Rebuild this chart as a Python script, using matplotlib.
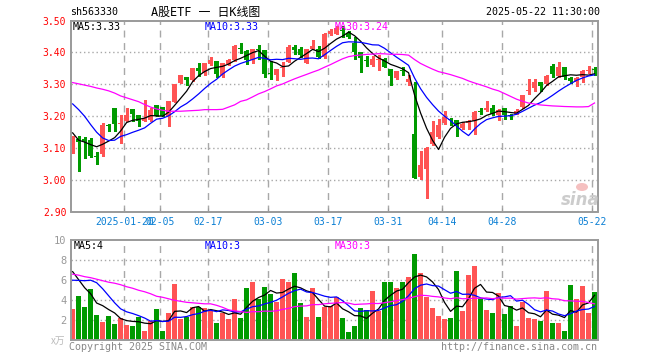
import matplotlib
matplotlib.use('Agg')
import matplotlib.pyplot as plt
import numpy as np
from matplotlib.patches import Ellipse

# ---------------- data ----------------
dates = ['01-07','01-08','01-09','01-10','01-13','01-14','01-15','01-16','01-17','01-20',
         '01-21','01-22','01-23','01-24','01-27',
         '02-05','02-06','02-07','02-10','02-11','02-12','02-13','02-14','02-17','02-18',
         '02-19','02-20','02-21','02-24','02-25','02-26','02-27','02-28',
         '03-03','03-04','03-05','03-06','03-07','03-10','03-11','03-12','03-13','03-14',
         '03-17','03-18','03-19','03-20','03-21','03-24','03-25','03-26','03-27','03-28','03-31',
         '04-01','04-02','04-03','04-07','04-08','04-09','04-10','04-11','04-14','04-15',
         '04-16','04-17','04-18','04-21','04-22','04-23','04-24','04-25','04-28','04-29','04-30',
         '05-06','05-07','05-08','05-09','05-12','05-13','05-14','05-15','05-16',
         '05-19','05-20','05-21','05-22']

opens = [3.105,3.128,3.128,3.124,3.073,3.081,3.173,3.226,3.174,3.185,
         3.223,3.204,3.185,3.186,3.234,3.228,3.199,3.244,3.305,3.322,
         3.313,3.350,3.334,3.362,3.374,3.329,3.363,3.376,3.415,3.404,
         3.376,3.411,3.407,3.336,3.329,3.350,3.371,3.418,3.412,3.366,
         3.409,3.412,3.386,3.459,3.459,3.470,3.461,3.430,3.402,3.375,
         3.360,3.376,3.378,3.347,3.319,3.343,3.308,3.142,3.008,3.032,
         3.113,3.134,3.178,3.192,3.188,3.162,3.178,3.183,3.216,3.220,
         3.225,3.202,3.225,3.204,3.207,3.228,3.280,3.287,3.307,3.300,
         3.357,3.327,3.353,3.320,3.307,3.322,3.340,3.346]
highs = [3.138,3.136,3.133,3.131,3.086,3.178,3.176,3.226,3.202,3.225,
         3.223,3.204,3.251,3.225,3.234,3.228,3.246,3.301,3.329,3.322,
         3.350,3.368,3.368,3.384,3.374,3.368,3.379,3.423,3.428,3.407,
         3.412,3.423,3.407,3.374,3.348,3.371,3.423,3.423,3.418,3.411,
         3.439,3.420,3.461,3.472,3.482,3.482,3.467,3.447,3.402,3.388,
         3.388,3.392,3.383,3.347,3.340,3.355,3.329,3.308,3.090,3.103,
         3.185,3.192,3.217,3.194,3.188,3.180,3.188,3.215,3.225,3.248,
         3.235,3.222,3.225,3.206,3.222,3.267,3.316,3.316,3.307,3.329,
         3.362,3.369,3.353,3.322,3.322,3.345,3.357,3.353]
lows = [3.084,3.027,3.069,3.071,3.050,3.074,3.152,3.152,3.114,3.183,
        3.183,3.168,3.183,3.185,3.199,3.199,3.168,3.243,3.303,3.298,
        3.311,3.326,3.329,3.360,3.322,3.322,3.360,3.374,3.397,3.362,
        3.368,3.378,3.324,3.316,3.313,3.326,3.369,3.394,3.384,3.366,
        3.409,3.381,3.381,3.455,3.457,3.449,3.444,3.378,3.337,3.358,
        3.358,3.343,3.355,3.296,3.317,3.329,3.296,3.004,3.001,2.942,
        3.110,3.131,3.176,3.173,3.136,3.159,3.159,3.142,3.206,3.215,
        3.204,3.188,3.192,3.191,3.206,3.225,3.270,3.279,3.279,3.298,
        3.324,3.324,3.316,3.305,3.293,3.308,3.336,3.329]
closes = [3.134,3.118,3.120,3.074,3.071,3.173,3.168,3.174,3.179,3.204,
          3.207,3.183,3.194,3.218,3.201,3.201,3.246,3.301,3.329,3.313,
          3.350,3.340,3.366,3.376,3.332,3.366,3.376,3.420,3.412,3.376,
          3.412,3.407,3.332,3.333,3.348,3.355,3.418,3.407,3.392,3.409,
          3.420,3.384,3.459,3.467,3.478,3.467,3.447,3.402,3.381,3.373,
          3.378,3.378,3.355,3.327,3.340,3.341,3.317,3.004,3.046,3.100,
          3.151,3.173,3.196,3.186,3.170,3.176,3.183,3.212,3.214,3.225,
          3.207,3.220,3.202,3.201,3.215,3.267,3.282,3.308,3.295,3.327,
          3.332,3.353,3.324,3.311,3.320,3.342,3.345,3.344]
volumes = [3.13,4.37,3.33,5.03,2.53,1.83,2.43,1.63,2.23,1.53,
           1.43,2.27,0.93,1.93,3.13,0.93,2.73,5.53,2.13,2.33,
           3.33,3.33,3.23,2.93,1.73,2.70,2.13,4.03,2.23,5.13,
           5.73,4.03,5.23,4.53,3.83,6.03,5.73,6.63,3.73,2.33,
           5.13,2.33,3.33,3.37,4.27,2.23,0.83,1.43,3.23,3.03,
           4.83,2.93,5.73,5.73,5.13,5.73,6.23,8.53,6.67,4.23,
           3.23,2.43,2.13,2.23,6.83,2.93,6.43,7.33,4.13,3.03,
           2.73,4.63,2.63,3.43,1.43,3.83,2.23,2.13,1.93,4.83,
           1.73,1.73,0.93,5.43,4.03,5.33,2.73,4.73]

# moving-average values before enough in-window history exists
ma5_lead = [3.147, 3.124, 3.118, 3.110]
ma10_lead = [3.238, 3.220, 3.199, 3.173, 3.149, 3.131, 3.123, 3.124, 3.136]
ma30_lead = [3.305, 3.301, 3.297, 3.293, 3.288, 3.284, 3.279, 3.272, 3.263, 3.257,
             3.251, 3.245, 3.236, 3.228, 3.222, 3.218, 3.215, 3.215, 3.215, 3.216,
             3.217, 3.218, 3.220, 3.220, 3.220, 3.221, 3.228, 3.235, 3.246]
vma5_lead = [6.8, 6.0, 5.2, 4.6]
vma10_lead = [5.95, 5.93, 5.90, 5.95, 5.70, 5.10, 4.40, 3.70, 3.10]
vma30_lead = [6.55, 6.45, 6.30, 6.20, 6.05, 5.90, 5.75, 5.65, 5.50, 5.30,
              5.15, 4.95, 4.80, 4.60, 4.35, 4.25, 4.10, 3.95, 3.85, 3.75,
              3.70, 3.65, 3.60, 3.60, 3.45, 3.25, 3.00, 2.90, 2.83]

tick_dates = ['01-20', '02-05', '02-17', '03-03', '03-17', '03-31', '04-14', '04-28', '05-22']
tick_labels = ['2025-01-20', '02-05', '02-17', '03-03', '03-17', '03-31', '04-14', '04-28', '05-22']
price_ticks = [2.90, 3.00, 3.10, 3.20, 3.30, 3.40, 3.50]
vol_ticks = [2, 4, 6, 8, 10]

# ---------------- helpers ----------------
def moving_avg(vals, n, lead):
    out = list(lead)
    for i in range(len(lead), len(vals)):
        out.append(float(np.mean(vals[i - n + 1:i + 1])))
    return np.array(out)

W, H = 660, 360
fig = plt.figure(figsize=(6.6, 3.6), dpi=100)
fig.patch.set_facecolor('white')

def frac(x0, y0, x1, y1):
    return [x0 / W, 1 - y1 / H, (x1 - x0) / W, (y1 - y0) / H]

def ftext(x, y, s, **kw):
    fig.text(x / W, 1 - y / H, s, **kw)

MONO = 'DejaVu Sans Mono'
RED = '#ff5454'
GREEN = '#009a00'
GRID = '#a8a8a8'
FRAME = '#9a9a9a'

x = np.arange(len(dates))
o = np.array(opens); h = np.array(highs); l = np.array(lows); c = np.array(closes)
v = np.array(volumes)
up = c >= o
cols = np.where(up, RED, GREEN)

ax = fig.add_axes(frac(70.5, 20.5, 597.5, 211.5))
axv = fig.add_axes(frac(70.5, 239.5, 597.5, 340.0))

xmin, xmax = -0.36, 87.5
tick_pos = [dates.index(d) - 0.36 for d in tick_dates]

for a in (ax, axv):
    a.set_xlim(xmin, xmax)
    for s in a.spines.values():
        s.set_color(FRAME)
        s.set_linewidth(1.4)
    a.set_facecolor('white')
    for tp in tick_pos:
        a.axvline(tp, color=GRID, lw=1, ls=(0, (5, 4)), zorder=0.5)

# ---------------- price panel ----------------
ax.set_ylim(2.90, 3.50)
for p in price_ticks[1:-1]:
    ax.axhline(p, color=GRID, lw=1, ls=(0, (1, 2)), zorder=0.5)

ax.vlines(x, l, h, colors=cols, lw=1, zorder=2, antialiased=False)
body_h = np.maximum(np.abs(c - o), 0.0028)
ax.bar(x, body_h, bottom=np.minimum(o, c), width=0.8, color=cols, lw=0, zorder=2.1,
       antialiased=False)

ma5 = moving_avg(c, 5, ma5_lead)
ma10 = moving_avg(c, 10, ma10_lead)
ma30 = moving_avg(c, 30, ma30_lead)
ax.plot(x, ma5, color='black', lw=0.9, zorder=3)
ax.plot(x, ma10, color='#0000ff', lw=0.9, zorder=3)
ax.plot(x, ma30, color='#ff00ff', lw=0.9, zorder=3)

ax.set_yticks(price_ticks)
ax.set_yticklabels(['%.2f' % p for p in price_ticks], color='#ff0000', family=MONO, fontsize=7)
ax.set_xticks(tick_pos)
ax.set_xticklabels(tick_labels, color='#0a7fd4', family=MONO, fontsize=7)
ax.tick_params(axis='y', length=0, pad=3)
ax.tick_params(axis='x', direction='in', length=3, color=FRAME, pad=4)

# ---------------- volume panel ----------------
axv.set_ylim(0, 10)
for p in vol_ticks[:-1]:
    axv.axhline(p, color=GRID, lw=1, ls=(0, (1, 2)), zorder=0.5)
axv.bar(x, v, width=0.8, color=cols, lw=0, zorder=2, antialiased=False)
vma5 = moving_avg(v, 5, vma5_lead)
vma10 = moving_avg(v, 10, vma10_lead)
vma30 = moving_avg(v, 30, vma30_lead)
axv.plot(x, vma5, color='black', lw=0.9, zorder=3)
axv.plot(x, vma10, color='#0000ff', lw=0.9, zorder=3)
axv.plot(x, vma30, color='#ff00ff', lw=0.9, zorder=3)
axv.set_yticks(vol_ticks)
axv.set_yticklabels([str(t) for t in vol_ticks], color='#999999', family=MONO, fontsize=7.5)
axv.tick_params(axis='y', length=0, pad=3)
axv.set_xticks([])

# ---------------- texts ----------------
ftext(70, 12, 'sh563330', family=MONO, fontsize=7.2, color='black', va='center', ha='left')
ftext(151, 12, 'A股ETF 一 日K线图', family=[MONO, 'Noto Sans CJK SC'], fontsize=8.6,
      color='black', va='center', ha='left')
ftext(600, 12, '2025-05-22 11:30:00', family=MONO, fontsize=7.2, color='black',
      va='center', ha='right')

ftext(73, 26.5, 'MA5:3.33', family=MONO, fontsize=7.2, color='black', va='center')
ftext(205, 26.5, 'MA10:3.33', family=MONO, fontsize=7.2, color='#0000ff', va='center')
ftext(335, 26.5, 'MA30:3.24', family=MONO, fontsize=7.2, color='#ff00ff', va='center')

ftext(74, 246, 'MA5:4', family=MONO, fontsize=7.2, color='black', va='center')
ftext(205, 246, 'MA10:3', family=MONO, fontsize=7.2, color='#0000ff', va='center')
ftext(335, 246, 'MA30:3', family=MONO, fontsize=7.2, color='#ff00ff', va='center')

ftext(65, 341, 'x万', family=['Noto Sans CJK SC', 'DejaVu Sans'], fontsize=7,
      color='#bbbbbb', va='center', ha='right', style='italic')
ftext(69, 347, 'Copyright 2025 SINA.COM', family=MONO, fontsize=7.2, color='#888888',
      va='center', ha='left')
ftext(597, 347, 'http://finance.sina.com.cn', family=MONO, fontsize=7.2, color='#888888',
      va='center', ha='right')

# sina watermark
ftext(580, 200, 'sina', family='DejaVu Sans', fontsize=12, weight='bold', style='italic',
      color='#cccccc', va='center', ha='center')
fig.patches.append(Ellipse((582 / W, 1 - 187 / H), 12 / W, 8 / H, transform=fig.transFigure,
                           facecolor='#f5c0c0', edgecolor='none'))

fig.savefig('out.png', dpi=100, facecolor='white')
